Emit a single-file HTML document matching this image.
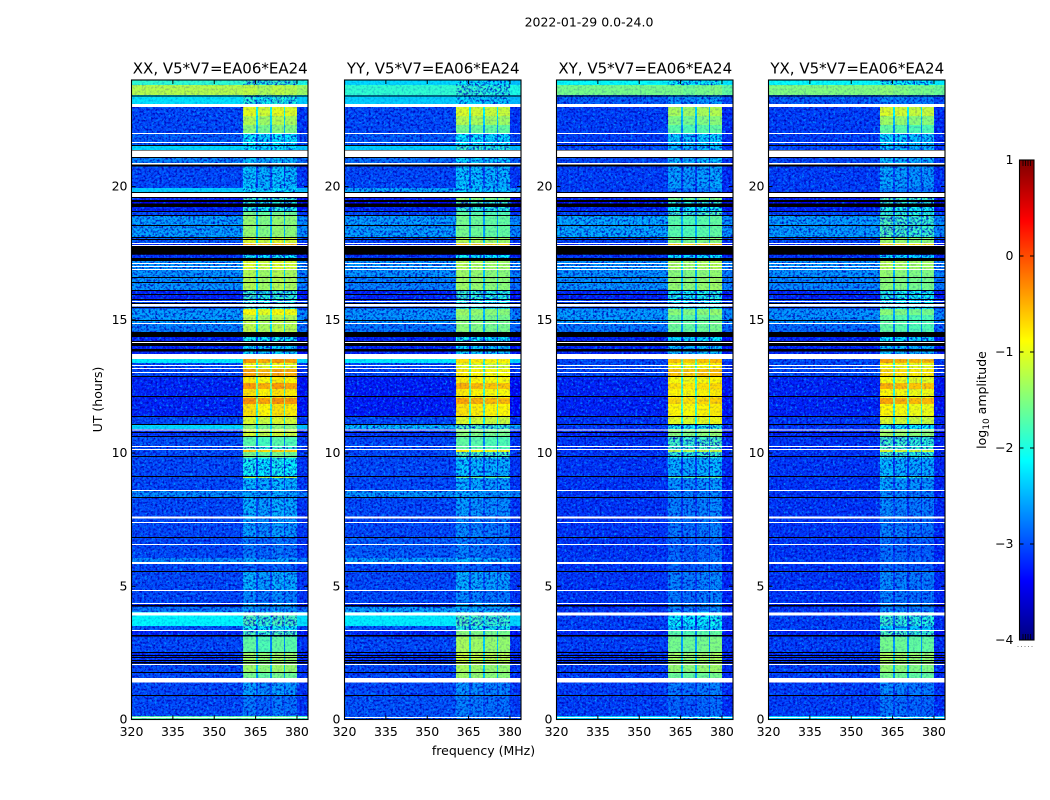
<!DOCTYPE html>
<html lang="en">
<head>
<meta charset="utf-8">
<title>2022-01-29 dynamic spectra</title>
<style>
html,body{margin:0;padding:0;background:#fff;width:1050px;height:800px;overflow:hidden}
svg{display:block}
text{font-family:"DejaVu Sans","Liberation Sans",sans-serif;fill:#000}
</style>
</head>
<body>
<svg id="chart" xmlns="http://www.w3.org/2000/svg" width="1050" height="800" viewBox="0 0 1050 800">
<defs>
<filter id="grain-light" x="0" y="0" width="100%" height="100%" color-interpolation-filters="sRGB">
<feTurbulence type="fractalNoise" baseFrequency="0.42" numOctaves="2" seed="3"/>
<feColorMatrix type="matrix" values="0 0 0 0 0  0 0 0 0 .62  0 0 0 0 1  2.6 0 0 0 -1.3"/>
</filter>
<filter id="grain-dark" x="0" y="0" width="100%" height="100%" color-interpolation-filters="sRGB">
<feTurbulence type="fractalNoise" baseFrequency="0.45" numOctaves="2" seed="11"/>
<feColorMatrix type="matrix" values="0 0 0 0 0  0 0 0 0 0  0 0 0 0 .72  2.6 0 0 0 -1.15"/>
</filter>
</defs>
<text x="589" y="26.5" font-size="12.5" text-anchor="middle">2022-01-29 0.0-24.0</text>
<text x="483.5" y="755" font-size="12.5" text-anchor="middle">frequency (MHz)</text>
<text x="0" y="0" font-size="12.5" text-anchor="middle" transform="translate(102,399.5) rotate(-90)">UT (hours)</text>
<text x="0" y="0" font-size="12.5" text-anchor="middle" transform="translate(986,400) rotate(-90)">log<tspan font-size="9" dy="3">10</tspan><tspan dy="-3"> amplitude</tspan></text>
<g id="panels"></g>
<g id="colorbar"></g>
</svg>
<script>
// Panel titles and axis ticks
var panelTitles = ["XX, V5*V7=EA06*EA24", "YY, V5*V7=EA06*EA24", "XY, V5*V7=EA06*EA24", "YX, V5*V7=EA06*EA24"];
var freqTicks = [320, 335, 350, 365, 380];
var utTicks = [0, 5, 10, 15, 20];
var colorTicks = [-4, -3, -2, -1, 0, 1];

// Frequency channel groups (MHz) and what each group represents
var bandStart = [320, 360.5, 365.2, 365.9, 370.2, 371, 375.3, 375.7, 380];
var bandEnd = [360.5, 365.2, 365.9, 370.2, 371, 375.3, 375.7, 380, 384];
var bandKind = ["low", "a", "gap", "b", "gap", "c", "gap", "d", "edge"];

// Top edge (UT hours) of each time segment, top of plot to bottom
var segmentTop = [24,23.81,23.44,23.1,22.65,22.31,22.01,21.56,21.37,20.88,
19.95,19.61,19.5,19.23,19.08,18.9,18.11,17.88,17.73,17.43,
17.21,16.91,16.61,16.12,15.78,15.41,15.18,14.88,14.54,14.02,
13.72,13.38,13.19,12.89,12.63,12.4,12.07,11.84,11.39,11.09,
10.9,10.6,10.26,10.11,10.04,9.81,9.14,9.06,8.58,8.35,
7.64,6.85,6.06,5.91,5.54,4.86,4.33,4.22,4.03,3.51,
3.32,3.1,2.53,2.08,1.78,1.56,0.88,0.13];

// log10 amplitude, off-band continuum and in-band signal, per segment
var xxLow = [-1.9,-1.25,-2.25,-3,-3,-3,-2.9,-2.3,-2.7,-3,
-2.35,-3.2,-3.4,-3.2,-3,-2.55,-2.9,-3.2,-4,-3.1,
-2.6,-2.6,-2.6,-3.2,-3,-2.55,-2.55,-2.7,-3.2,-3.2,
-2.2,-3,-3,-3.2,-3.2,-3.2,-3.2,-3.2,-3,-2.3,
-3.1,-2.95,-3,-3,-3,-3,-3,-3,-2.65,-3,
-3,-3,-2.65,-3,-3,-3,-3.2,-2.75,-2.15,-2.9,
-3.2,-3,-3.1,-3,-3,-3,-3,-1.7];
var xxBlock = [-1.9,-1.25,-2,-1.05,-1.3,-1.5,-2.2,-2.2,-2.4,-2.4,
-2.25,-1.9,-2,-2,-1.6,-1.45,-1.1,-0.5,-4,-2.1,
-1.1,-1.3,-1.3,-1.9,-2,-0.95,-1.25,-1.25,-2.1,-2.3,
-0.45,-1,-0.5,-0.85,-0.45,-0.8,-0.4,-0.8,-1.1,-1.5,
-1.15,-1.75,-1.9,-0.7,-1.6,-2.1,-1.2,-2.45,-2.55,-2.5,
-2.6,-2.8,-2.55,-2.9,-2.5,-2.7,-2.55,-2.6,-1.8,-2.1,
-1.8,-1.7,-1.4,-1.4,-1.6,-2.6,-2.8,-1.7];
var yyLow = [-2.3,-1.9,-2.35,-3,-3,-3,-2.9,-2.35,-2.8,-3,
-2.5,-3.2,-3.4,-3.2,-3,-2.55,-3,-3.2,-4,-3.1,
-2.6,-2.6,-2.7,-3.2,-3,-2.6,-2.6,-2.75,-3.2,-3.2,
-2.2,-3,-3,-3.25,-3.25,-3.25,-3.25,-3.25,-3,-2.4,
-3.1,-3,-3,-3,-3,-3,-3,-3,-2.6,-3,
-3,-2.9,-2.55,-3,-3,-3,-3.2,-2.55,-2.2,-2.9,
-3.2,-3,-3.1,-3,-3,-3,-2.95,-2.9];
var yyBlock = [-2.2,-1.9,-2.3,-1.1,-1.3,-1.6,-2.2,-1.9,-2.3,-2.4,
-2.3,-1.5,-1.8,-1.9,-1.7,-1.6,-1.3,-0.6,-4,-2.1,
-1.3,-1.4,-1.4,-1.9,-2,-1.4,-1.5,-1.5,-2.1,-2.3,
-0.8,-1.05,-0.85,-0.85,-0.55,-0.85,-0.5,-0.8,-1.1,-1.8,
-1.5,-1.7,-1.7,-0.9,-1.8,-2.4,-1.6,-2.5,-2.55,-2.6,
-2.7,-2.75,-2.45,-2.9,-2.5,-2.7,-2.55,-2.5,-1.8,-2,
-1.5,-1.35,-1.2,-1.35,-1.4,-2.65,-2.75,-2.75];
var xyLow = [-2.1,-1.55,-2.9,-3.05,-3.05,-3.05,-3.05,-3,-3,-3.05,
-3.05,-3.2,-3.4,-3.2,-3,-2.5,-3,-3.2,-4,-3.1,
-2.6,-2.6,-2.6,-3.2,-3,-2.55,-2.55,-2.75,-3.2,-3.2,
-3,-3,-3,-3.2,-3.2,-3.2,-3.2,-3.2,-3.1,-3.1,
-3.2,-3.1,-3.1,-3.1,-3.1,-3.1,-3.1,-3.1,-3.1,-3.1,
-3.1,-3.1,-3.05,-3.1,-3.1,-3.1,-3.2,-3.1,-3.05,-3.05,
-3.2,-3.05,-3.1,-3.05,-3.05,-3.05,-3.05,-2.3];
var xyBlock = [-2.1,-1.55,-2.6,-1.3,-1.5,-1.7,-2.3,-2.4,-2.4,-2.55,
-2.7,-1.6,-1.9,-2.1,-1.8,-1.7,-1.5,-0.6,-4,-2.2,
-1.3,-1.45,-1.4,-2,-2.1,-1.45,-1.6,-1.6,-2.2,-2.4,
-0.6,-0.9,-0.6,-0.9,-0.75,-0.85,-0.7,-0.85,-1,-2,
-1.45,-1.8,-1.8,-1.2,-1.9,-2.45,-1.7,-2.6,-2.7,-2.7,
-2.75,-2.85,-2.8,-2.85,-2.7,-2.75,-2.65,-2.7,-2.1,-2.3,
-1.7,-1.55,-1.35,-1.4,-1.6,-2.75,-2.85,-2.3];
var yxLow = [-2.1,-1.5,-2.9,-3.05,-3.05,-3.05,-3.05,-3,-3,-3.05,
-3.05,-3.2,-3.4,-3.2,-3,-2.55,-3,-3.2,-4,-3.1,
-2.6,-2.6,-2.65,-3.2,-3,-2.6,-2.6,-2.8,-3.2,-3.2,
-3,-3,-3,-3.2,-3.2,-3.2,-3.2,-3.2,-3.1,-3.1,
-3.2,-3.1,-3.1,-3.1,-3.1,-3.1,-3.1,-3.1,-3.1,-3.1,
-3.1,-3.1,-3.05,-3.1,-3.1,-3.1,-3.2,-3.1,-3.05,-3.05,
-3.2,-3.05,-3.1,-3.05,-3.05,-3.05,-3.05,-2.3];
var yxBlock = [-2.1,-1.5,-2.7,-1.1,-1.4,-1.7,-2.3,-2.4,-2.4,-2.55,
-2.7,-1.8,-1.9,-2,-1.9,-1.8,-1.4,-0.7,-4,-2.2,
-1.3,-1.45,-1.5,-2,-2.1,-1.5,-1.7,-1.7,-2.2,-2.4,
-0.5,-0.95,-0.75,-0.95,-0.55,-0.9,-0.5,-0.9,-1.1,-2.1,
-1.4,-1.85,-1.8,-1.1,-1.9,-2.45,-1.8,-2.55,-2.7,-2.7,
-2.75,-2.85,-2.8,-2.85,-2.7,-2.75,-2.65,-2.7,-1.9,-2.3,
-1.8,-1.6,-1.35,-1.45,-1.6,-2.7,-2.8,-2.3];
var lowSeries = [xxLow, yyLow, xyLow, yxLow];
var blockSeries = [xxBlock, yyBlock, xyBlock, yxBlock];

// Amplitude offsets of sub-bands a, b, c, d for each polarisation
var xxSubband = [0.05, -0.05, 0.05, 0];
var yySubband = [0.05, 0, -0.05, -0.05];
var xySubband = [0, -0.05, 0, 0.05];
var yxSubband = [0.05, 0, -0.05, -0.05];
var subbandSeries = [xxSubband, yySubband, xySubband, yxSubband];

// Flagged (blank) integrations, UT hours, shared by all panels
var blankStart = [23.1,22.01,21.67,21.35,20.89,19.76,17.88,17.81,17.13,17.02,16.91,15.71,15.59,14.88,14.17,13.72,13.3,13.19,13.04,10.88,10.26,10.15,8.61,7.62,7.41,6.59,5.91,4.86,4.37,4.02,3.36,2.08,1.56,0.09];
var blankEnd = [22.99,21.97,21.63,21.11,20.83,19.61,17.85,17.77,17.1,16.98,16.87,15.67,15.5,14.84,14.13,13.53,13.27,13.15,13,10.85,10.23,10.11,8.58,7.54,7.37,6.55,5.84,4.82,4.33,3.9,3.32,2.05,1.39,0.06];

// Zero-amplitude integrations (drawn black), UT hours
var zeroStart = [23.42,21.56,21.37,21.11,20.83,19.8,19.61,19.5,19.36,19.08,18.93,18.56,18.11,18.03,17.77,17.32,16.61,16.42,16.12,15.97,15.78,15.63,15.48,14.99,14.54,14.21,14.13,13.91,12.89,12.14,11.39,11.09,10.79,10.64,9.89,9.14,8.35,6.85,5.57,4.3,3.17,2.53,2.42,2.35,2.23,2.16,1.78,0.92];
var zeroEnd = [23.38,21.52,21.35,21.07,20.75,19.76,19.57,19.42,19.23,19.05,18.9,18.52,18.07,18,17.45,17.21,16.57,16.38,16.08,15.93,15.74,15.59,15.44,14.95,14.36,14.17,14.02,13.81,12.85,12.1,11.35,11.05,10.75,10.6,9.85,9.1,8.31,6.81,5.54,4.24,3.12,2.5,2.38,2.31,2.2,2.1,1.75,0.88];

var SVGNS = "http://www.w3.org/2000/svg";
var PANEL_LEFT = [131.5, 344.5, 556.5, 768.5];
var PANEL_WIDTH = 176.5;
var PLOT_TOP = 80;
var PLOT_BOTTOM = 719.5;
var F_MIN = 320, F_MAX = 384, UT_MIN = 0, UT_MAX = 24;
var V_MIN = -4, V_MAX = 1;
var CB_LEFT = 1019.5, CB_WIDTH = 14.5, CB_TOP = 160, CB_BOTTOM = 640;

function xScale(panel, f) { return PANEL_LEFT[panel] + (f - F_MIN) / (F_MAX - F_MIN) * PANEL_WIDTH; }
function yScale(h) { return PLOT_BOTTOM - (h - UT_MIN) / (UT_MAX - UT_MIN) * (PLOT_BOTTOM - PLOT_TOP); }
function cbScale(v) { return CB_BOTTOM - (v - V_MIN) / (V_MAX - V_MIN) * (CB_BOTTOM - CB_TOP); }
function clamp01(a) { return Math.max(0, Math.min(1, a)); }
function jet(v) {
  var t = clamp01((v - V_MIN) / (V_MAX - V_MIN));
  var r = Math.round(255 * clamp01(1.5 - Math.abs(4 * t - 3)));
  var g = Math.round(255 * clamp01(1.5 - Math.abs(4 * t - 2)));
  var b = Math.round(255 * clamp01(1.5 - Math.abs(4 * t - 1)));
  return "rgb(" + r + "," + g + "," + b + ")";
}
function make(tag, parent, attrs) {
  var el = document.createElementNS(SVGNS, tag);
  for (var k in attrs) el.setAttribute(k, attrs[k]);
  parent.appendChild(el);
  return el;
}
function cellValue(kind, low, block, offsets) {
  if (kind === "low") return low;
  if (kind === "edge") return low <= -3.9 ? low : low - 0.1;
  if (kind === "gap") return Math.max(low, block - 1);
  return block + offsets["abcd".indexOf(kind)];
}

var panelsGroup = document.getElementById("panels");
panelTitles.forEach(function (title, p) {
  var g = make("g", panelsGroup, {});
  
  
  var left = PANEL_LEFT[p], right = left + PANEL_WIDTH;

  var cells = make("g", g, {"shape-rendering": "crispEdges"});
  
  
  var clip = make("clipPath", g, {id: "dim-rows-" + p});
  var blockX0 = xScale(p, bandStart[1]), blockX1 = xScale(p, bandEnd[7]);
  segmentTop.forEach(function (top, i) {
    var bottom = i + 1 < segmentTop.length ? segmentTop[i + 1] : UT_MIN;
    var y0 = yScale(top), h = yScale(bottom) - y0;
    bandKind.forEach(function (kind, b) {
      var v = cellValue(kind, lowSeries[p][i], blockSeries[p][i], subbandSeries[p]);
      var x0 = xScale(p, bandStart[b]), x1 = xScale(p, bandEnd[b]);
      var cell = make("rect", cells, {x: x0, y: y0, width: x1 - x0, height: h, fill: jet(v)});
      
      
    });
    // Speckle is strong only where the picture is noisy: faint rows and faint signal.
    if (lowSeries[p][i] <= -2.4) {
      make("rect", clip, {x: left, y: y0, width: blockX0 - left, height: h});
      make("rect", clip, {x: blockX1, y: y0, width: right - blockX1, height: h});
    }
    if (blockSeries[p][i] <= -1.8) {
      make("rect", clip, {x: blockX0, y: y0, width: blockX1 - blockX0, height: h});
    }
  });

  // Decorative speckle only: it carries no data values.
  var faint = make("g", g, {opacity: 0.25});
  
  
  make("rect", faint, {x: left, y: PLOT_TOP, width: PANEL_WIDTH, height: PLOT_BOTTOM - PLOT_TOP, filter: "url(#grain-dark)"});
  var noisy = make("g", g, {"clip-path": "url(#dim-rows-" + p + ")"});
  
  
  make("rect", noisy, {x: left, y: PLOT_TOP, width: PANEL_WIDTH, height: PLOT_BOTTOM - PLOT_TOP, filter: "url(#grain-light)"});
  make("rect", noisy, {x: left, y: PLOT_TOP, width: PANEL_WIDTH, height: PLOT_BOTTOM - PLOT_TOP, filter: "url(#grain-dark)"});

  var flags = make("g", g, {"shape-rendering": "crispEdges"});
  
  
  zeroStart.forEach(function (s, i) {
    var r = make("rect", flags, {x: left, y: yScale(s), width: PANEL_WIDTH, height: yScale(zeroEnd[i]) - yScale(s), fill: "#000"});
    
    
  });
  blankStart.forEach(function (s, i) {
    var r = make("rect", flags, {x: left, y: yScale(s), width: PANEL_WIDTH, height: yScale(blankEnd[i]) - yScale(s), fill: "#fff"});
    
    
  });

  var frame = make("rect", g, {x: left, y: PLOT_TOP, width: PANEL_WIDTH, height: PLOT_BOTTOM - PLOT_TOP, fill: "none", stroke: "#000", "stroke-width": 1.1});
  
  

  freqTicks.forEach(function (f) {
    var x = xScale(p, f);
    var t1 = make("line", g, {x1: x, x2: x, y1: PLOT_BOTTOM, y2: PLOT_BOTTOM - 4, stroke: "#000", "stroke-width": 1});
    
    
    var t2 = make("line", g, {x1: x, x2: x, y1: PLOT_TOP, y2: PLOT_TOP + 4, stroke: "#000", "stroke-width": 1});
    
    
    var label = make("text", g, {x: x, y: 736, "font-size": 12.5, "text-anchor": "middle"});
    label.textContent = f;
    
    
  });
  utTicks.forEach(function (h) {
    var y = yScale(h);
    var t1 = make("line", g, {x1: left, x2: left + 4, y1: y, y2: y, stroke: "#000", "stroke-width": 1});
    
    
    var t2 = make("line", g, {x1: right, x2: right - 4, y1: y, y2: y, stroke: "#000", "stroke-width": 1});
    
    
    var label = make("text", g, {x: left - 4, y: y + 4, "font-size": 12.5, "text-anchor": "end"});
    label.textContent = h;
    
    
  });
  var titleEl = make("text", g, {x: left + PANEL_WIDTH / 2 + 0.5, y: 73.5, "font-size": 15, "text-anchor": "middle"});
  titleEl.textContent = title;
  
  
});

var cbGroup = document.getElementById("colorbar");
for (var row = 0; row < 240; row++) {
  var v0 = V_MIN + (V_MAX - V_MIN) * row / 240;
  var v1 = V_MIN + (V_MAX - V_MIN) * (row + 1) / 240;
  var swatch = make("rect", cbGroup, {x: CB_LEFT, y: cbScale(v1), width: CB_WIDTH, height: cbScale(v0) - cbScale(v1) + 0.5, fill: jet((v0 + v1) / 2), "shape-rendering": "crispEdges"});
  
  
}
var cbFrame = make("rect", cbGroup, {x: CB_LEFT, y: CB_TOP, width: CB_WIDTH, height: CB_BOTTOM - CB_TOP, fill: "none", stroke: "#000", "stroke-width": 1.1});


colorTicks.forEach(function (v) {
  var y = cbScale(v);
  var a = make("line", cbGroup, {x1: CB_LEFT, x2: CB_LEFT + 4, y1: y, y2: y, stroke: "#000", "stroke-width": 1});
  
  
  var b = make("line", cbGroup, {x1: CB_LEFT + CB_WIDTH, x2: CB_LEFT + CB_WIDTH - 4, y1: y, y2: y, stroke: "#000", "stroke-width": 1});
  
  
  var label = make("text", cbGroup, {x: 1013.5, y: y + 4, "font-size": 12.5, "text-anchor": "end"});
  label.textContent = String(v).replace("-", "\u2212");
  
  
});
[1023, 1025.5, 1028, 1030.5].forEach(function (x) {
  var top = make("line", cbGroup, {x1: x, x2: x, y1: CB_TOP, y2: CB_TOP + 6, stroke: "#000", "stroke-width": 0.8});
  
  
  var bottom = make("line", cbGroup, {x1: x, x2: x, y1: CB_BOTTOM, y2: CB_BOTTOM - 6, stroke: "#000", "stroke-width": 0.8});
  
  
});
var dots = make("line", cbGroup, {x1: 1017.5, x2: 1035, y1: 646.5, y2: 646.5, stroke: "#888", "stroke-width": 1, "stroke-dasharray": "1 2.5"});


</script>
</body>
</html>
